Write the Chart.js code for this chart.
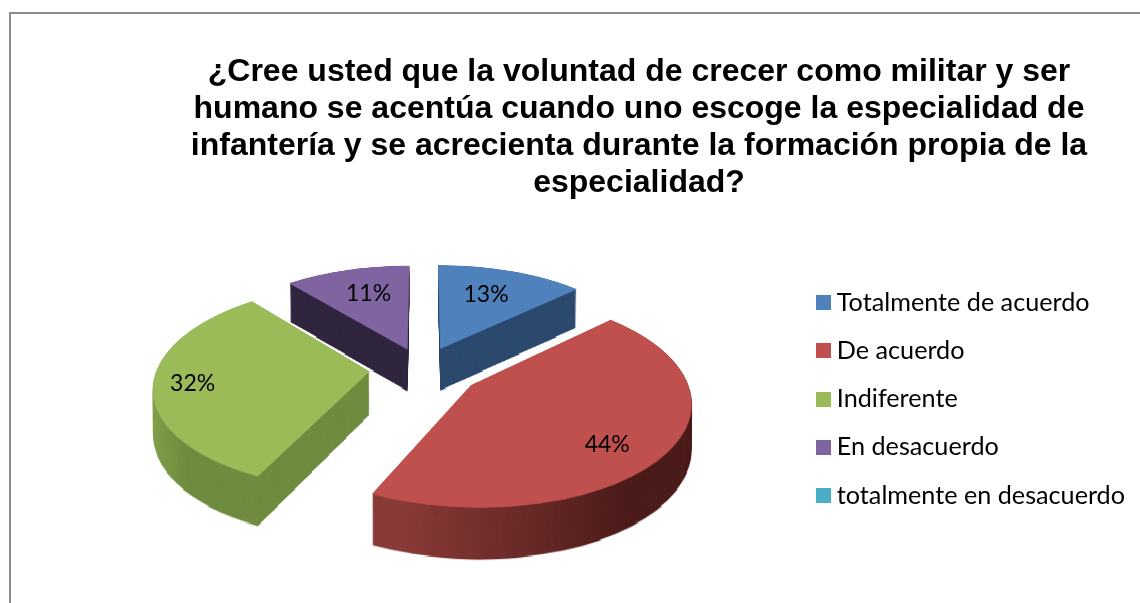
<!DOCTYPE html>
<html>
<head>
<meta charset="utf-8">
<script src="https://cdn.jsdelivr.net/npm/chart.js@4"></script>
<style>
  html, body { margin: 0; padding: 0; background: #fff; overflow: hidden; }
  #wrap { position: relative; width: 1140px; height: 603px; }
  #frame { position: absolute; left: 9px; top: 12px; right: -10px; bottom: -10px; border: 2px solid #8c8c8c; }
  canvas { position: absolute; left: 0; top: 0; }
</style>
</head>
<body>
<div id="wrap">
  <div id="frame"></div>
  <canvas id="chart" width="1140" height="603"></canvas>
</div>
<script>
const titleLines = [
  "¿Cree usted que la voluntad de crecer como militar y ser",
  "humano se acentúa cuando uno escoge la especialidad de",
  "infantería y se acrecienta durante la formación propia de la",
  "especialidad?",
];
const categories = [
  "Totalmente de acuerdo",
  "De acuerdo",
  "Indiferente",
  "En desacuerdo",
  "totalmente en desacuerdo",
];
const values = [13, 44, 32, 11, 0];
const colors = ["#4f81bd", "#c0504d", "#9bbb59", "#8064a2", "#4bacc6"];

// explode distance of each slice, as a share of the radius
const explode = [0.225, 0.28, 0.25, 0.21, 0];
// where the label sits along the slice's middle, as a share of the radius
const labelReach = [0.68, 0.76, 0.82, 0.69, 0];
// small turn of each label away from the slice's middle, degrees
const labelTurn = [-2, 6, 0, 2, 0];
// side wall shades: [u start, u end, colour start, colour end]
const walls = [
  [0, 1, "#2c4a6e", "#2c4a6e"],
  [-0.3, 0.6, "#8a3b38", "#4d1d1b"],
  [-1.25, -0.75, "#9bbb59", "#708c40"],
  [-1, 0, "#31263f", "#31263f"],
];
const drawOrder = [3, 0, 2, 1];

const RADIUS = 100;
const view = { cx: 422, cy: 368, sx: 212, sy: 100, k: 0.14, depth: 45, top: 250, bottom: 560 };
const off = { w: 800, h: 400, rx: 260, ry: 130 };

const project = (u, v) => {
  const w = 1 - view.k * v;
  return { x: view.cx + (view.sx * u) / w, y: view.cy + (view.sy * v) / w };
};

// paint one arc seen from straight above, with the library's own arc element
const paintArc = (layer, arc, index, fill) => {
  const ctx = layer.getContext("2d");
  const fx = off.rx / arc.outerRadius;
  const fy = off.ry / arc.outerRadius;
  const mid = (arc.startAngle + arc.endAngle) / 2;
  const push = explode[index] * arc.outerRadius;
  ctx.setTransform(1, 0, 0, 1, 0, 0);
  ctx.clearRect(0, 0, off.w, off.h);
  ctx.setTransform(fx, 0, 0, fy, off.w / 2 - arc.x * fx, off.h / 2 - arc.y * fy);
  ctx.translate(Math.cos(mid) * push, Math.sin(mid) * push);
  const saved = arc.options;
  arc.options = {
    backgroundColor: fill,
    borderWidth: 0,
    borderAlign: "center",
    borderRadius: 0,
    circular: true,
    spacing: 0,
    offset: 0,
  };
  arc.draw(ctx);
  arc.options = saved;
};

// lay the flat layer down row by row so that it recedes towards the back
const layDown = (ctx, layer, extrude) => {
  for (let y = view.top; y < view.bottom; y++) {
    const Y = y - view.cy;
    const v = Y / (view.sy + view.k * Y);
    const w = 1 - view.k * v;
    const srcY = off.h / 2 + v * off.ry;
    const width = ((off.w / off.rx) * view.sx) / w;
    const height = extrude ? view.depth / w : 1.5;
    ctx.drawImage(layer, 0, srcY, off.w, 1, view.cx - width / 2, y, width, height);
  }
};

const wallShade = (ctx, arc, index) => {
  const [u0, u1, c0, c1] = walls[index];
  const g = ctx.createLinearGradient(
    arc.x + u0 * arc.outerRadius, 0, arc.x + u1 * arc.outerRadius, 0
  );
  g.addColorStop(0, c0);
  g.addColorStop(1, c1);
  return g;
};

const pie3d = {
  id: "pie3d",
  beforeDatasetsDraw(chart) {
    const ctx = chart.ctx;
    const arcs = chart.getDatasetMeta(0).data;
    const layer = document.createElement("canvas");
    layer.width = off.w;
    layer.height = off.h;
    drawOrder.forEach((i) => {
      const arc = arcs[i];
      paintArc(layer, arc, i, wallShade(layer.getContext("2d"), arc, i));
      layDown(ctx, layer, true);
      paintArc(layer, arc, i, colors[i]);
      layDown(ctx, layer, false);
    });
    ctx.save();
    ctx.fillStyle = "#000";
    ctx.font = "23px Lato";
    ctx.textAlign = "center";
    ctx.textBaseline = "middle";
    arcs.forEach((arc, i) => {
      if (!values[i]) return;
      const mid = (arc.startAngle + arc.endAngle) / 2;
      const turned = mid + (labelTurn[i] * Math.PI) / 180;
      const ux = Math.cos(mid) * explode[i] + Math.cos(turned) * labelReach[i];
      const uy = Math.sin(mid) * explode[i] + Math.sin(turned) * labelReach[i];
      const p = project(ux, uy);
      ctx.fillText(values[i] + "%", p.x, p.y + 2);
    });
    ctx.restore();
    return false;
  },
};

const legendSwatch = (color) => {
  const c = document.createElement("canvas");
  c.width = 15;
  c.height = 15;
  const x = c.getContext("2d");
  x.fillStyle = color;
  x.fillRect(0, 0, 15, 15);
  return c;
};

new Chart(document.getElementById("chart"), {
  type: "pie",
  data: {
    labels: categories,
    datasets: [
      {
        data: values,
        backgroundColor: colors,
        borderWidth: 0,
        radius: RADIUS,
      },
    ],
  },
  plugins: [pie3d],
  options: {
    responsive: false,
    animation: false,
    layout: { padding: { left: 143, right: 5, bottom: 16 } },
    plugins: {
      tooltip: { enabled: false },
      title: {
        display: true,
        text: titleLines,
        color: "#000",
        font: { family: "'Liberation Sans'", size: 32, weight: "bold", lineHeight: 1.15 },
        padding: { top: 54, bottom: 10 },
      },
      legend: {
        position: "right",
        fullSize: false,
        labels: {
          color: "#000",
          font: { family: "Lato", size: 25.2 },
          boxWidth: 1,
          padding: 23,
          usePointStyle: true,
          generateLabels: () =>
            categories.map((text, index) => ({
              text,
              index,
              fontColor: "#000",
              pointStyle: legendSwatch(colors[index]),
              lineWidth: 0,
              strokeStyle: "transparent",
              fillStyle: colors[index],
            })),
        },
      },
    },
  },
});
</script>
</body>
</html>
